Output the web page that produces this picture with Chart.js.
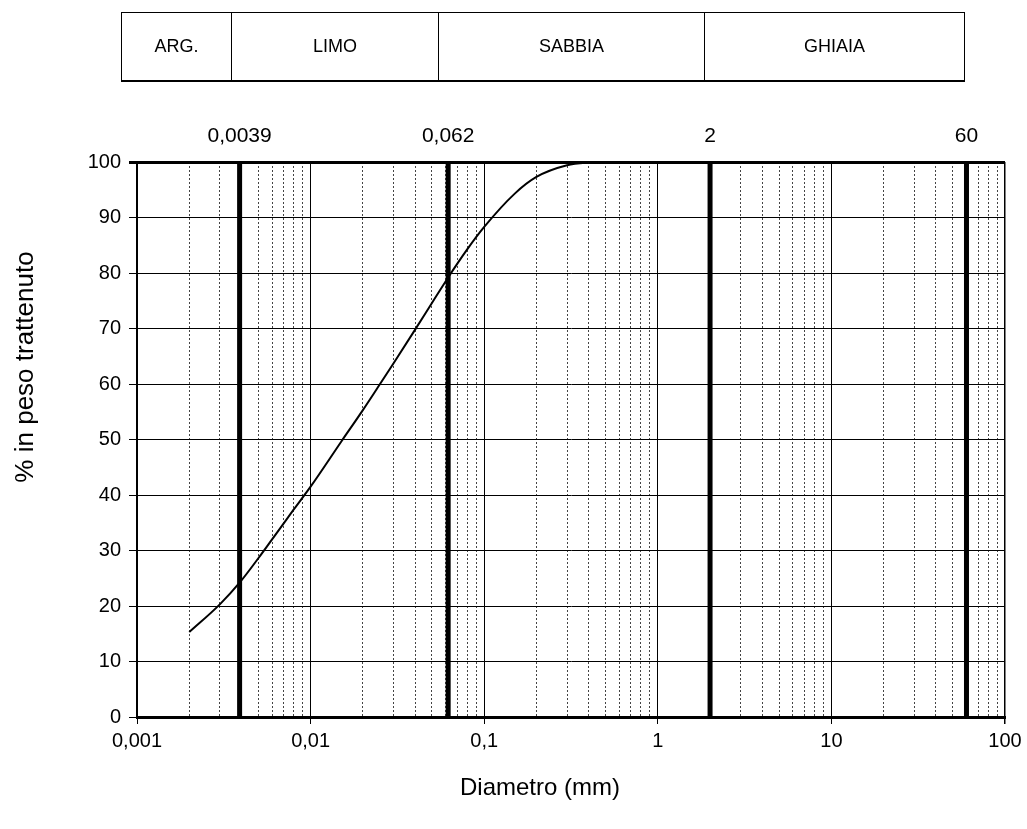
<!DOCTYPE html>
<html>
<head>
<meta charset="utf-8">
<script src="https://cdn.jsdelivr.net/npm/chart.js@4.4.0/dist/chart.umd.min.js"></script>
<style>
  html, body { margin: 0; padding: 0; background: #fff; }
  #wrap { position: relative; width: 1027px; height: 829px; }
  #classes {
    position: absolute; left: 121px; top: 12px; height: 70px; box-sizing: border-box;
    display: flex; border: 1.5px solid #000; border-bottom-width: 2px;
    font-family: "Liberation Sans", Arial, sans-serif; font-size: 18px; color: #000;
  }
  #classes div {
    display: flex; align-items: center; justify-content: center;
    border-left: 1.5px solid #000; box-sizing: border-box;
  }
  #classes div:first-child { border-left: none; }
</style>
</head>
<body>
<div id="wrap">
  <canvas id="chart" width="1027" height="829"></canvas>
  <div id="classes"></div>
</div>
<script>
// grain size classes shown in the header
const classNames = ['ARG.', 'LIMO', 'SABBIA', 'GHIAIA'];
const classBoxWidths = [109, 207, 266, 260];

// class boundaries (mm) drawn as thick vertical lines
const boundaries = [0.0039, 0.062, 2, 60];
const boundaryLabels = ['0,0039', '0,062', '2', '60'];

// grading curve
const diameters = [0.002, 0.003, 0.0039, 0.005, 0.006, 0.007, 0.008, 0.01, 0.015, 0.02, 0.025, 0.03,
                   0.04, 0.05, 0.062, 0.08, 0.1, 0.15, 0.2, 0.3, 0.4, 0.5, 1, 2];
const retained = [15.3, 20.3, 24.2, 28.6, 32.0, 34.9, 37.4, 41.5, 49.6, 55.3, 59.9, 63.7,
                  69.8, 74.6, 79.2, 84.3, 88.3, 94.3, 97.3, 99.4, 99.9, 100, 100, 100];

// axis ticks
const xTickValues = [0.001, 0.01, 0.1, 1, 10, 100];
const xTickLabels = ['0,001', '0,01', '0,1', '1', '10', '100'];
const xMinorTicks = [];
xTickValues.slice(0, -1).forEach(d => {
    for (let m = 2; m <= 9; m++) xMinorTicks.push(+(d * m).toPrecision(3));
});

const FONT = '"Liberation Sans", Arial, sans-serif';

// header boxes
const classes = document.getElementById('classes');
classes.innerHTML = classNames.map((name, i) =>
    `<div style="width:${classBoxWidths[i]}px">${name}</div>`).join('');

// labels drawn outside the axes: boundary values and axis titles
const extraText = {
    id: 'extraText',
    afterDraw(chart) {
        const ctx = chart.ctx;
        const xs = chart.scales.x;
        ctx.save();
        ctx.fillStyle = '#000';
        ctx.textAlign = 'center';
        ctx.textBaseline = 'middle';
        ctx.font = '21px ' + FONT;
        boundaries.forEach((b, i) => {
            ctx.fillText(boundaryLabels[i], xs.getPixelForValue(b), 136);
        });
        ctx.font = '24px ' + FONT;
        ctx.fillText('Diametro (mm)', 540, 788);
        ctx.font = '26px ' + FONT;
        ctx.translate(26, 367);
        ctx.rotate(-Math.PI / 2);
        ctx.fillText('% in peso trattenuto', 0, 0);
        ctx.restore();
    }
};

const curve = {
    data: diameters.map((d, i) => ({ x: d, y: retained[i] })),
    borderColor: '#000',
    borderWidth: 2,
    pointRadius: 0,
    cubicInterpolationMode: 'monotone'
};

const boundaryLines = boundaries.map(b => ({
    data: [{ x: b, y: 0 }, { x: b, y: 100 }],
    borderColor: '#000',
    borderWidth: 5,
    pointRadius: 0
}));

new Chart(document.getElementById('chart'), {
    type: 'line',
    data: { datasets: [curve, ...boundaryLines] },
    options: {
        responsive: false,
        animation: false,
        devicePixelRatio: 1,
        layout: { padding: { left: 8, right: 22, top: 162, bottom: 0 } },
        plugins: { legend: { display: false }, tooltip: { enabled: false } },
        scales: {
            x: {
                type: 'logarithmic',
                position: 'bottom',
                min: 0.001,
                max: 100,
                afterBuildTicks: s => { s.ticks = xTickValues.map(v => ({ value: v })); },
                afterFit: s => { s.height = 112; },
                ticks: {
                    autoSkip: false,
                    maxRotation: 0,
                    padding: 5,
                    color: '#000',
                    font: { family: FONT, size: 20 },
                    callback: (v, i) => xTickLabels[i]
                },
                grid: {
                    color: '#000',
                    lineWidth: c => (c.index === xTickValues.length - 1 ? 1.5 : 1),
                    tickLength: 7
                },
                border: { color: '#000', width: 3 }
            },
            xMinor: {
                type: 'logarithmic',
                position: 'top',
                min: 0.001,
                max: 100,
                afterBuildTicks: s => { s.ticks = xMinorTicks.map(v => ({ value: v })); },
                afterFit: s => { s.height = 0; },
                ticks: { display: false },
                grid: { color: '#444', lineWidth: 1, drawTicks: false },
                border: { display: false, dash: [2, 2] }
            },
            y: {
                min: 0,
                max: 100,
                afterFit: s => { s.width = 129; },
                ticks: {
                    stepSize: 10,
                    padding: 8,
                    color: '#000',
                    font: { family: FONT, size: 20 }
                },
                grid: {
                    color: '#000',
                    lineWidth: c => (c.tick && c.tick.value === 100 ? 3 : 1),
                    tickLength: 8
                },
                border: { color: '#000', width: 2 }
            }
        }
    },
    plugins: [extraText]
});
</script>
</body>
</html>
